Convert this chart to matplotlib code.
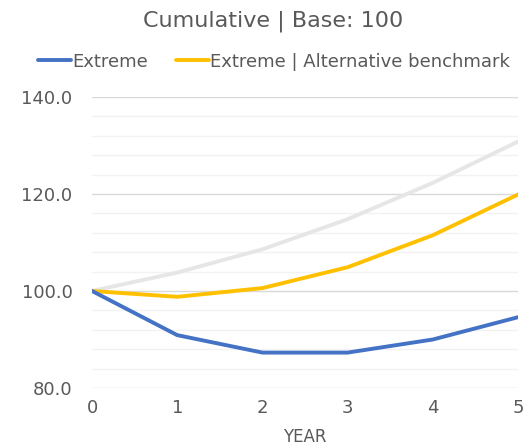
import numpy as np
import matplotlib.pyplot as plt
from matplotlib.ticker import MultipleLocator

# Data
years = [0, 1, 2, 3, 4, 5]
extreme = [100.0, 90.9, 87.3, 87.3, 90.0, 94.6]
extreme_alt = [100.0, 98.8, 100.6, 104.9, 111.5, 119.9]
base_curve = [100.0, 103.8, 108.6, 114.8, 122.3, 130.8]

text_col = '#595959'
plt.rcParams['font.family'] = ['DejaVu Sans']

fig = plt.figure(figsize=(5.27, 4.47), dpi=100)
ax = fig.add_axes([0.1746, 0.132, 0.8084, 0.651])

ax.plot(years, base_curve, color='#E7E6E6', lw=2.8, solid_capstyle='round', zorder=3)
ax.plot(years, extreme_alt, color='#FFC000', lw=2.8, solid_capstyle='round', zorder=4)
ax.plot(years, extreme, color='#4472C4', lw=2.8, solid_capstyle='round', zorder=5)

ax.set_xlim(0, 5)
ax.set_ylim(80, 140)
ax.yaxis.set_minor_locator(MultipleLocator(4))
ax.set_yticks(np.arange(80, 141, 20))
ax.set_yticklabels(['%.1f' % v for v in np.arange(80, 141, 20)])
ax.set_xticks(years)
ax.grid(axis='y', which='major', color='#D9D9D9', lw=1)
ax.grid(axis='y', which='minor', color='#F2F2F2', lw=1)
ax.set_axisbelow(True)
for s in ax.spines.values():
    s.set_visible(False)
ax.tick_params(which='both', length=0, colors=text_col, labelsize=13)
ax.tick_params(axis='x', pad=8)
ax.tick_params(axis='y', pad=14)
ax.set_xlabel('YEAR', color=text_col, fontsize=12, labelpad=8)

fig.text(0.518, 0.953, 'Cumulative | Base: 100', ha='center', va='center',
         fontsize=16, color=text_col)

handles = [ax.lines[2], ax.lines[1]]
leg = fig.legend(handles, ['Extreme', 'Extreme | Alternative benchmark'],
                 loc='center', bbox_to_anchor=(0.52, 0.862), ncol=2, frameon=False,
                 fontsize=13, handlelength=1.8, handletextpad=0.05, columnspacing=1.6,
                 labelcolor=text_col)

fig.savefig('out.png', dpi=100)
